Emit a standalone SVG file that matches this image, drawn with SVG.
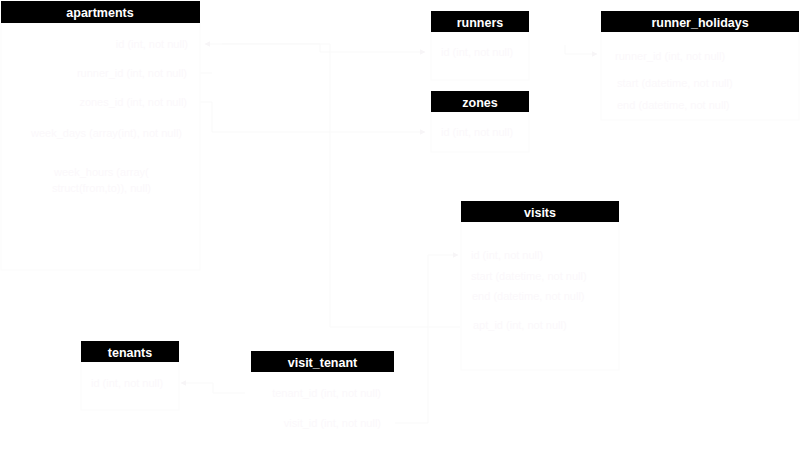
<svg xmlns="http://www.w3.org/2000/svg" width="801" height="451" viewBox="0 0 801 451">
  <defs>
    <marker id="arrow" viewBox="0 0 10 10" refX="9" refY="5" markerWidth="6" markerHeight="6" orient="auto-start-reverse">
      <path d="M0,0 L10,5 L0,10 z" fill="#f7f5f7"/>
    </marker>
    <style>
      .hdr { fill: #000000; }
      .title { font-family: "Liberation Sans", Arial, sans-serif; font-size: 12.5px; font-weight: bold; fill: #ffffff; text-anchor: middle; }
      .body { fill: #ffffff; stroke: #fbfbfb; stroke-width: 1; }
      .col { font-family: "Liberation Sans", Arial, sans-serif; font-size: 11px; fill: #fbf8fb; }
      .r { text-anchor: end; }
      .link { fill: none; stroke: #f9f9f9; stroke-width: 1; }
    </style>
  </defs>
  <rect width="801" height="451" fill="#ffffff"/>

  <!-- relations -->
  <g id="connectors">
    <path class="link" d="M222,44 H320 V52 H425" marker-end="url(#arrow)"/>
    <path class="link" d="M190,73 H212"/>
    <path class="link" d="M190,102 H212 V132 H425" marker-end="url(#arrow)"/>
    <path class="link" d="M565,45 V54 H597" marker-end="url(#arrow)"/>
    <path class="link" d="M460,327 H330 V44 H205" marker-end="url(#arrow)"/>
    <path class="link" d="M395,423 H428 V255 H458" marker-end="url(#arrow)"/>
    <path class="link" d="M245,393 H213 V383 H181" marker-end="url(#arrow)"/>
  </g>

  <g id="apartments">
    <rect class="body" x="1" y="23" width="199" height="247"/>
    <rect class="hdr" x="1" y="1" width="199" height="22"/>
    <text class="title" x="100" y="17">apartments</text>
    <text class="col r" x="188" y="48">id (int, not null)</text>
    <text class="col r" x="187" y="77">runner_id (int, not null)</text>
    <text class="col r" x="187" y="106">zones_id (int, not null)</text>
    <text class="col r" x="182" y="137">week_days (array(int), not null)</text>
    <text class="col" x="54" y="176">week_hours (array(</text>
    <text class="col" x="52" y="192">struct(from,to)), null)</text>
  </g>

  <g id="runners">
    <rect class="body" x="431" y="32" width="98" height="48"/>
    <rect class="hdr" x="431" y="11" width="98" height="21"/>
    <text class="title" x="480" y="26.5">runners</text>
    <text class="col" x="441" y="56">id (int, not null)</text>
  </g>

  <g id="zones">
    <rect class="body" x="431" y="112" width="98" height="40"/>
    <rect class="hdr" x="431" y="91" width="98" height="21"/>
    <text class="title" x="480" y="106.5">zones</text>
    <text class="col" x="441" y="136">id (int, not null)</text>
  </g>

  <g id="runner_holidays">
    <rect class="body" x="601" y="32" width="198" height="88"/>
    <rect class="hdr" x="601" y="11" width="198" height="21"/>
    <text class="title" x="700" y="26.5">runner_holidays</text>
    <text class="col" x="615" y="60">runner_id (int, not null)</text>
    <text class="col" x="617" y="87">start (datetime, not null)</text>
    <text class="col" x="617" y="109">end (datetime, not null)</text>
  </g>

  <g id="visits">
    <rect class="body" x="461" y="222" width="158" height="148"/>
    <rect class="hdr" x="461" y="201" width="158" height="21"/>
    <text class="title" x="540" y="216.5">visits</text>
    <text class="col" x="471" y="259">id (int, not null)</text>
    <text class="col" x="471" y="280">start (datetime, not null)</text>
    <text class="col" x="472" y="300">end (datetime, not null)</text>
    <text class="col" x="473" y="329">apt_id (int, not null)</text>
  </g>

  <g id="tenants">
    <rect class="body" x="81" y="362" width="98" height="48"/>
    <rect class="hdr" x="81" y="341" width="98" height="21"/>
    <text class="title" x="130" y="356.5">tenants</text>
    <text class="col" x="91" y="387">id (int, not null)</text>
  </g>

  <g id="visit_tenant">
    <rect class="hdr" x="251" y="351" width="143" height="21"/>
    <text class="title" x="322.5" y="366.5">visit_tenant</text>
    <text class="col r" x="381" y="397">tenant_id (int, not null)</text>
    <text class="col r" x="381" y="427">visit_id (int, not null)</text>
  </g>
</svg>
